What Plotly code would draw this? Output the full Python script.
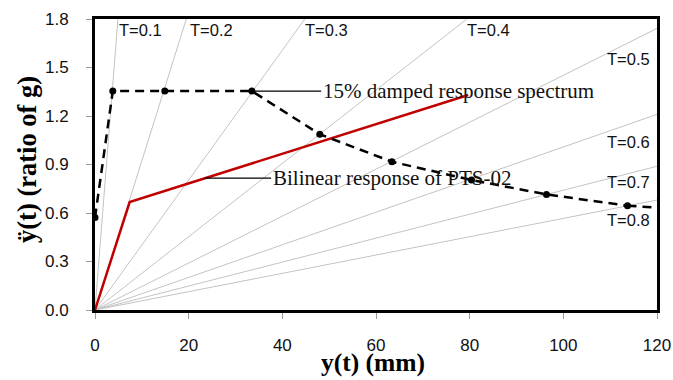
import plotly.graph_objects as go

# Period lines (T) drawn from origin to where they leave the plot box
t_labels = ["T=0.1", "T=0.2", "T=0.3", "T=0.4", "T=0.5", "T=0.6", "T=0.7", "T=0.8"]
t_end_x = [4.9, 19.5, 44.8, 79.4, 120, 120, 120, 120]
t_end_y = [1.8, 1.8, 1.8, 1.8, 1.742, 1.21, 0.889, 0.68]

# 15% damped response spectrum
spec_x = [0.0, 3.8, 14.9, 33.5, 48.0, 63.4, 80.4, 96.4, 113.7]
spec_y = [0.572, 1.354, 1.354, 1.354, 1.087, 0.917, 0.804, 0.715, 0.645]
spec_tail_x = [113.7, 120.0]
spec_tail_y = [0.645, 0.633]

# Bilinear response of PTS-02
bil_x = [0.0, 7.4, 79.7]
bil_y = [0.0, 0.668, 1.33]

# label positions for T lines
t_lab_x = [4.8, 19.8, 44.5, 79.0, 119.0, 119.0, 119.0, 119.0]
t_lab_y = [1.735, 1.735, 1.735, 1.735, 1.553, 1.04, 0.79, 0.555]
t_lab_anchor = ["left", "left", "left", "left", "right", "right", "right", "right"]

x_ticks = [0, 20, 40, 60, 80, 100, 120]
y_ticks = [0, 0.3, 0.6, 0.9, 1.2, 1.5, 1.8]

sans = "Liberation Sans, Arial, sans-serif"
serif = "Liberation Serif, Times New Roman, serif"

fig = go.Figure()

for ex, ey in zip(t_end_x, t_end_y):
    fig.add_trace(go.Scatter(x=[0, ex], y=[0, ey], mode="lines",
                             line=dict(color="#c3c3c3", width=1),
                             hoverinfo="skip", showlegend=False))

fig.add_trace(go.Scatter(x=bil_x, y=bil_y, mode="lines",
                         line=dict(color="#c00000", width=2.5),
                         showlegend=False))

fig.add_trace(go.Scatter(x=spec_x, y=spec_y, mode="lines+markers",
                         line=dict(color="black", width=2.5, dash="9px,6px"),
                         marker=dict(color="black", size=7),
                         showlegend=False))
fig.add_trace(go.Scatter(x=spec_tail_x, y=spec_tail_y, mode="lines",
                         line=dict(color="black", width=2.5, dash="9px,6px"),
                         showlegend=False))

for lab, lx, ly, anc in zip(t_labels, t_lab_x, t_lab_y, t_lab_anchor):
    fig.add_annotation(x=lx, y=ly, text=lab, showarrow=False, xanchor=anc,
                       yanchor="middle",
                       font=dict(family=sans, size=16.5, color="#111"))

fig.add_annotation(x=spec_x[3], y=spec_y[3], ax=48.3, ay=spec_y[3], axref="x", ayref="y",
                   text="15% damped response spectrum", showarrow=True, arrowhead=0,
                   arrowwidth=1.3, arrowcolor="black", xanchor="left", yanchor="middle",
                   font=dict(family=serif, size=21, color="#111"))
fig.add_annotation(x=23.4, y=0.816, ax=37.6, ay=0.816, axref="x", ayref="y",
                   text="Bilinear response of PTS-02", showarrow=True, arrowhead=0,
                   arrowwidth=1.3, arrowcolor="black", xanchor="left", yanchor="middle",
                   font=dict(family=serif, size=21, color="#111"))

# axis titles
fig.add_annotation(xref="paper", yref="paper", x=0.494, y=-0.238, yanchor="bottom",
                   xanchor="center", showarrow=False, text="<b>y(t) (mm)</b>",
                   font=dict(family=serif, size=25.5, color="black"))
fig.add_annotation(xref="paper", yref="paper", x=-0.121, y=0.519, yanchor="middle",
                   xanchor="center", showarrow=False, textangle=-90,
                   text="<b>ÿ(t) (ratio of g)</b>",
                   font=dict(family=serif, size=26.5, color="black"))

fig.update_xaxes(range=[0, 120], tickvals=x_ticks, automargin=False,
                 showgrid=False, zeroline=False, showline=True, linecolor="black",
                 linewidth=3, mirror=True, ticks="outside", ticklen=6, tickcolor="#999",
                 ticklabelstandoff=12,
                 tickfont=dict(family=sans, size=17, color="#111"))
fig.update_yaxes(range=[0, 1.8], tickvals=y_ticks, tickformat=".1f", automargin=False,
                 showgrid=False, zeroline=False, showline=True, linecolor="black",
                 linewidth=3, mirror=True, ticks="outside", ticklen=6, tickcolor="#999",
                 ticklabelstandoff=14,
                 tickfont=dict(family=sans, size=17, color="#111"))

fig.update_layout(width=673, height=380, margin=dict(l=95, r=16, t=19, b=70),
                  plot_bgcolor="white", paper_bgcolor="white")

# remove the default page margin so the figure fills the window exactly
fig.write_html("out.html", config={"displayModeBar": False},
               post_script="document.body.style.margin='0';document.body.style.overflow='hidden';")
